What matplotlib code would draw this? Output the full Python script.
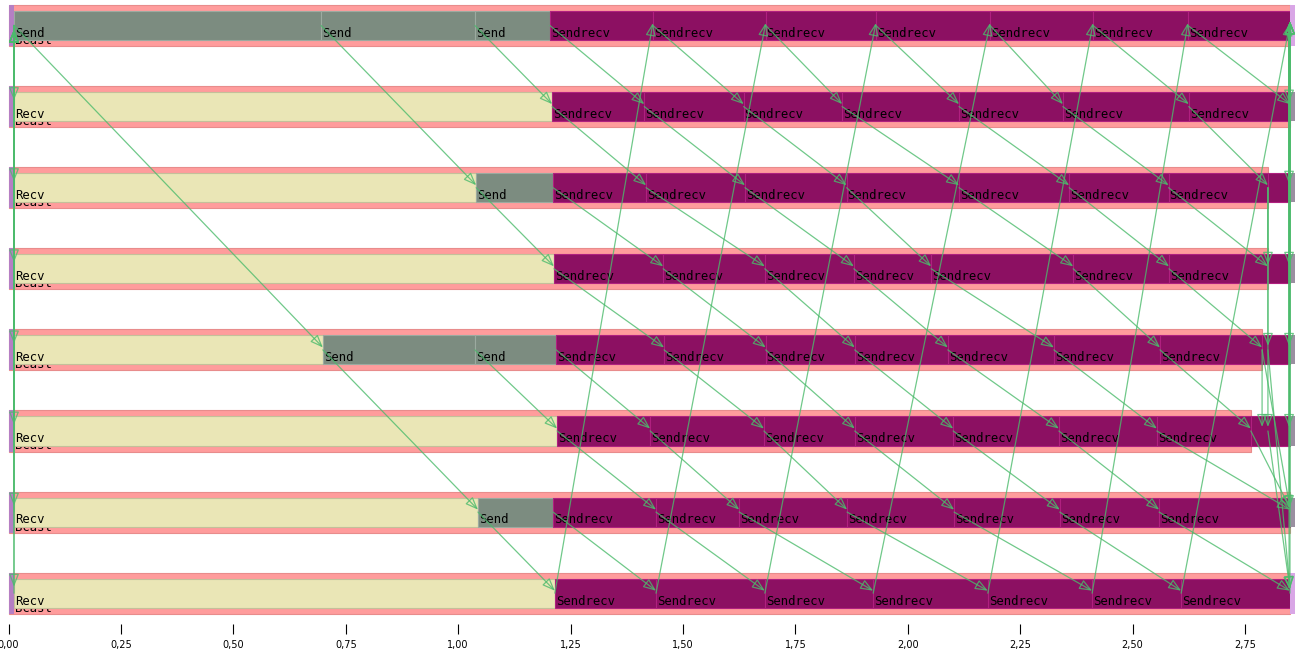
import matplotlib
matplotlib.use("Agg")
import matplotlib.pyplot as plt
from matplotlib.ticker import FixedLocator, FixedFormatter

# ---------------- data (times in seconds, ranks 0..7) ----------------
ranks = [0, 1, 2, 3, 4, 5, 6, 7]
init_end = 0.012                      # thin initial state at left
trace_end = 2.850                     # end of last states
# outer (Bcast) state extent per rank
bcast_end = [2.850, 2.850, 2.801, 2.801, 2.788, 2.763, 2.850, 2.850]

# states before the Sendrecv ring (labels and boundaries)
pre_labels = [["Send", "Send", "Send"], ["Recv"], ["Recv", "Send"], ["Recv"],
              ["Recv", "Send", "Send"], ["Recv"], ["Recv", "Send"], ["Recv"]]
pre_bounds = [[0.012, 0.695, 1.037, 1.204], [0.012, 1.209],
              [0.012, 1.040, 1.211], [0.012, 1.213],
              [0.012, 0.699, 1.037, 1.218], [0.012, 1.220],
              [0.012, 1.044, 1.211], [0.012, 1.215]]

# Sendrecv state start times per rank (7 per rank)
sendrecv_starts = [
    [1.204, 1.433, 1.684, 1.929, 2.183, 2.412, 2.623],
    [1.209, 1.414, 1.635, 1.854, 2.114, 2.345, 2.625],
    [1.211, 1.418, 1.638, 1.864, 2.114, 2.359, 2.580],
    [1.213, 1.456, 1.682, 1.880, 2.052, 2.368, 2.581],
    [1.218, 1.458, 1.684, 1.882, 2.089, 2.325, 2.561],
    [1.220, 1.427, 1.680, 1.882, 2.101, 2.336, 2.554],
    [1.211, 1.440, 1.625, 1.865, 2.103, 2.338, 2.559],
    [1.215, 1.440, 1.682, 1.923, 2.178, 2.410, 2.608],
]

# tree messages (scatter phase)
tree_src_rank = [0, 0, 0, 4, 4, 2, 6]
tree_src_time = [0.012, 0.695, 1.037, 0.699, 1.037, 1.040, 1.044]
tree_dst_rank = [4, 2, 1, 6, 5, 3, 7]
tree_dst_time = [0.699, 1.040, 1.209, 1.044, 1.220, 1.213, 1.215]

# final messages (end phase)
fin_src_rank = [2, 2, 2, 4, 5, 5, 4, 4, 1, 2, 3, 4, 5, 6, 7, 0, 0, 0, 0, 0, 0, 0]
fin_src_time = [2.801, 2.801, 2.801, 2.788, 2.763, 2.801, 2.788, 2.801,
                2.850, 2.850, 2.850, 2.850, 2.850, 2.850, 2.850,
                2.848, 2.848, 2.848, 2.848, 2.848, 2.848, 2.848]
fin_dst_rank = [3, 4, 5, 5, 6, 7, 6, 7, 0, 0, 0, 0, 0, 0, 0, 1, 2, 3, 4, 5, 6, 7]
fin_dst_time = [2.801, 2.801, 2.801, 2.788, 2.850, 2.850, 2.850, 2.850,
                2.850, 2.850, 2.850, 2.850, 2.850, 2.850, 2.850,
                2.848, 2.848, 2.848, 2.848, 2.848, 2.848, 2.848]

tick_values = [0.0, 0.25, 0.5, 0.75, 1.0, 1.25, 1.5, 1.75, 2.0, 2.25, 2.5, 2.75]
tick_labels = ["0,00", "0,25", "0,50", "0,75", "1,00", "1,25", "1,50",
               "1,75", "2,00", "2,25", "2,50", "2,75"]

# ---------------- style ----------------
C_PINK = "#FF9C9C"
C_SR = "#8C1062"
C_SR_EDGE = "#B0207F"
C_SEND = "#7C8C80"
C_RECV = "#EAE6B6"
C_INIT = "#B57FC4"
C_ARROW = "#4CBB6C"
state_color = {"Send": (C_SEND, "#9CAAA0"), "Recv": (C_RECV, "#C4C09A")}
OUTER_H = 0.506
INNER_H = 0.358
LABEL_FONT = dict(fontsize=8.8, family="DejaVu Sans Mono", va="baseline",
                  ha="left", color="black")

fig = plt.figure(figsize=(12.95, 6.54), dpi=100)
ax = fig.add_axes([0, 1 - 624 / 654, 1, 624 / 654])
ax.set_xlim(-0.0191, 2.8612)
ax.set_ylim(7.380, -0.3144)
for s in ax.spines.values():
    s.set_visible(False)
ax.set_yticks([])

# outer Bcast states
ax.barh(ranks, bcast_end, left=0.0, height=OUTER_H, color=C_PINK,
        edgecolor="#E88C8C", linewidth=0.8, zorder=1)
for r in ranks:
    ax.text(init_end + 0.003, r + 0.228, "Bcast", zorder=2, **LABEL_FONT)

# initial thin state
ax.barh(ranks, init_end, left=0.0, height=OUTER_H, color=C_INIT,
        linewidth=0, zorder=3)

# pre-ring states
for r in ranks:
    b = pre_bounds[r]
    for i, lab in enumerate(pre_labels[r]):
        fc, ec = state_color[lab]
        ax.barh(r, b[i + 1] - b[i], left=b[i], height=INNER_H, color=fc,
                edgecolor=ec, linewidth=0.8, zorder=3)
        ax.text(b[i] + 0.002, r + 0.14, lab, zorder=4, **LABEL_FONT)

# Sendrecv states
sr_ends = []
for r in ranks:
    st = sendrecv_starts[r]
    en = st[1:] + [bcast_end[r]]
    sr_ends.append(en)
    for s0, s1 in zip(st, en):
        ax.barh(r, s1 - s0, left=s0, height=INNER_H, color=C_SR,
                edgecolor=C_SR_EDGE, linewidth=0.8, zorder=3)
        ax.text(s0 + 0.002, r + 0.14, "Sendrecv", zorder=4, **LABEL_FONT)
    if bcast_end[r] < trace_end:
        ax.barh(r, trace_end - bcast_end[r], left=bcast_end[r], height=INNER_H,
                color=C_SR, edgecolor=C_SR_EDGE, linewidth=0.8, zorder=3)

# trailing slivers
for r in ranks:
    if r in (0, 7):
        ax.barh(r, 0.012, left=trace_end, height=OUTER_H, color="#D9A6E6",
                linewidth=0, zorder=3)
    else:
        ax.barh(r, 0.012, left=trace_end, height=INNER_H, color="#9A8FA0",
                linewidth=0, zorder=3)


def arrow(t0, r0, t1, r1):
    ax.annotate("", xy=(t1, r1), xytext=(t0, r0),
                arrowprops=dict(arrowstyle="-|>,head_length=0.55,head_width=0.22",
                                edgecolor=C_ARROW, facecolor="none", lw=0.9,
                                alpha=0.8, shrinkA=0, shrinkB=0,
                                mutation_scale=14),
                zorder=6)


# initial broadcast arrows along left edge
for r in ranks[1:]:
    arrow(init_end, 0, init_end, r - 0.08)
    arrow(init_end, r, init_end, 0.05)

# tree messages
for a, b, c, d in zip(tree_src_rank, tree_src_time, tree_dst_rank, tree_dst_time):
    arrow(b, a, d, c - 0.03)

# ring messages
for r in ranks:
    nxt = (r + 1) % 8
    for k in range(7):
        arrow(sendrecv_starts[r][k], r, sr_ends[nxt][k], nxt - 0.03)

# final messages
for a, b, c, d in zip(fin_src_rank, fin_src_time, fin_dst_rank, fin_dst_time):
    arrow(b, a, d, c - 0.05)

# x axis ticks
ax.xaxis.set_major_locator(FixedLocator(tick_values))
ax.xaxis.set_major_formatter(FixedFormatter(tick_labels))
ax.tick_params(axis="x", direction="out", length=7.5, width=0.8, pad=4,
               labelsize=7, color="black", labelcolor="black")

fig.savefig("out.png", dpi=100, facecolor="white")
